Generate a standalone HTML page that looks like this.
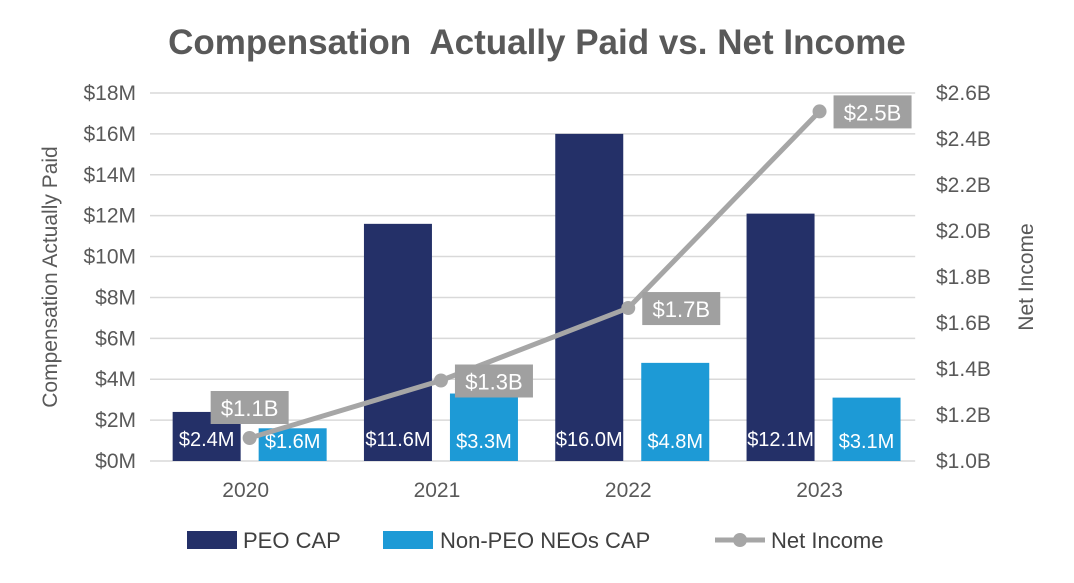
<!DOCTYPE html>
<html><head><meta charset="utf-8"><style>
html,body{margin:0;padding:0;background:#fff;}
svg text{font-family:"Liberation Sans",Arial,sans-serif;}
</style></head><body>
<svg id="chart" width="1074" height="578" viewBox="0 0 1074 578" xmlns="http://www.w3.org/2000/svg">
<text x="537" y="54" text-anchor="middle" font-size="35" font-weight="bold" fill="#595959">Compensation&#160; Actually Paid vs. Net Income</text>
<g id="grid"></g><g id="bars"></g><g id="line"></g><g id="axes"></g>
<text transform="translate(57,277) rotate(-90)" text-anchor="middle" font-size="21" fill="#595959">Compensation Actually Paid</text>
<text transform="translate(1033,277) rotate(-90)" text-anchor="middle" font-size="21" fill="#595959">Net Income</text>
<g>
<rect x="187" y="531" width="50" height="18" fill="#243068"/>
<text x="243" y="548" font-size="22" fill="#404040">PEO CAP</text>
<rect x="383" y="531" width="50" height="18" fill="#1d9ad6"/>
<text x="440" y="548" font-size="22" fill="#404040">Non-PEO NEOs CAP</text>
<line x1="715" y1="540" x2="765" y2="540" stroke="#a6a6a6" stroke-width="5"/>
<circle cx="740" cy="540" r="7" fill="#a6a6a6"/>
<text x="771" y="548" font-size="22" fill="#404040">Net Income</text>
</g>
</svg>
<script>
const categories=["2020","2021","2022","2023"];
const peoValues=[2.4,11.6,16.0,12.1];
const nonPeoValues=[1.6,3.3,4.8,3.1];
const netIncome=[1.10,1.35,1.665,2.52];
const netIncomeLabels=["$1.1B","$1.3B","$1.7B","$2.5B"];
const leftTicks=[0,2,4,6,8,10,12,14,16,18];
const rightTicks=[1.0,1.2,1.4,1.6,1.8,2.0,2.2,2.4,2.6];

const NS="http://www.w3.org/2000/svg";
const X0=150,CW=191.3,Y0=461,Y1=93;
const yL=v=>Y0-(v/18)*(Y0-Y1);
const yR=v=>Y0-((v-1.0)/1.6)*(Y0-Y1);
const xc=i=>X0+CW*(i+0.5);
function mk(parent,tag,attrs,text){const e=document.createElementNS(NS,tag);for(const k in attrs)e.setAttribute(k,attrs[k]);if(text!==undefined)e.textContent=text;document.getElementById(parent).appendChild(e);return e;}

leftTicks.forEach(t=>{
  const g=mk('grid','line',{x1:X0,x2:X0+CW*4,y1:yL(t),y2:yL(t),stroke:'#d9d9d9','stroke-width':1.5});
  
  
  const l=mk('axes','text',{x:136,y:yL(t)+7,'text-anchor':'end','font-size':21,fill:'#595959'},'$'+t+'M');
  
  
});
rightTicks.forEach(t=>{
  const l=mk('axes','text',{x:936,y:yR(t)+7,'text-anchor':'start','font-size':21,fill:'#595959'},'$'+t.toFixed(1)+'B');
  
  
});
categories.forEach((c,i)=>{
  const l=mk('axes','text',{x:xc(i),y:497,'text-anchor':'middle','font-size':21,fill:'#595959'},c);
  
  
  const bw=68;
  const px=xc(i)-bw-5, nx=xc(i)+13;
  const b1=mk('bars','rect',{x:px,y:yL(peoValues[i]),width:bw,height:Y0-yL(peoValues[i]),fill:'#243068'});
  
  
  const b2=mk('bars','rect',{x:nx,y:yL(nonPeoValues[i]),width:bw,height:Y0-yL(nonPeoValues[i]),fill:'#1d9ad6'});
  
  
  const t1=mk('bars','text',{x:px+bw/2,y:446,'text-anchor':'middle','font-size':20,fill:'#fff'},'$'+peoValues[i].toFixed(1)+'M');
  
  
  const t2=mk('bars','text',{x:nx+bw/2,y:448,'text-anchor':'middle','font-size':20,fill:'#fff'},'$'+nonPeoValues[i].toFixed(1)+'M');
  
  
});
const pts=netIncome.map((v,i)=>[xc(i)+(i==0?4:i==1?4:0),yR(v)]);
const pl=mk('line','polyline',{points:pts.map(p=>p.join(',')).join(' '),fill:'none',stroke:'#a6a6a6','stroke-width':5});


pts.forEach((p,i)=>{
  const c=mk('line','circle',{cx:p[0],cy:p[1],r:7,fill:'#a6a6a6'});
  
  
  let bx,by;
  if(i==0){bx=p[0]-39;by=p[1]-47;}else{bx=p[0]+14;by=p[1]-16;}
  const r=mk('line','rect',{x:bx,y:by,width:78,height:33,fill:'#a0a0a0'});
  
  
  const t=mk('line','text',{x:bx+39,y:by+25,'text-anchor':'middle','font-size':22,fill:'#fff'},netIncomeLabels[i]);
  
  
});
</script>
</body></html>
